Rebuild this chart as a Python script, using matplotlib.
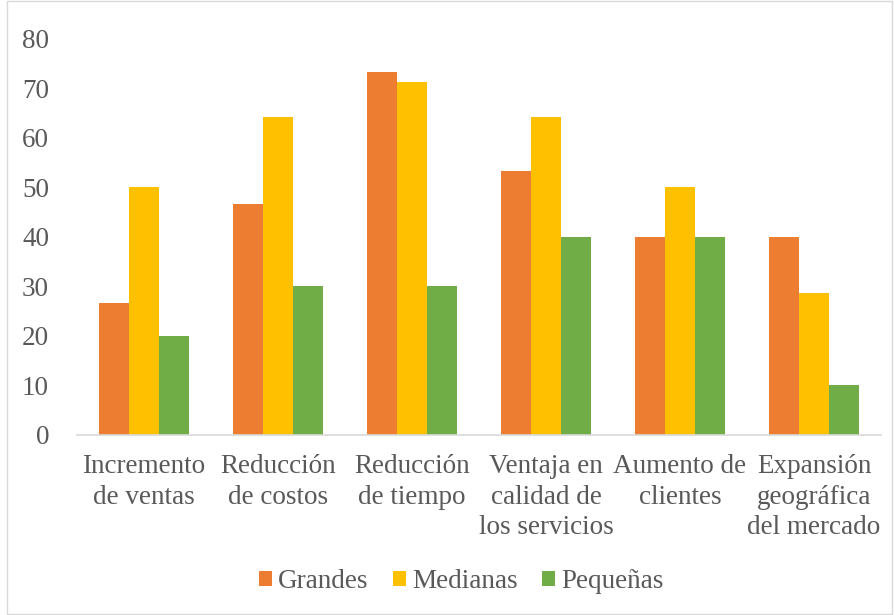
import numpy as np
import matplotlib.pyplot as plt
from matplotlib.patches import Rectangle

categorias = ["Incremento\nde ventas", "Reducción\nde costos", "Reducción\nde tiempo",
              "Ventaja en\ncalidad de\nlos servicios", "Aumento de\nclientes",
              "Expansión\ngeográfica\ndel mercado"]
grandes = [26.7, 46.7, 73.3, 53.3, 40.0, 40.0]
medianas = [50.0, 64.3, 71.4, 64.3, 50.0, 28.6]
pequenas = [20.0, 30.0, 30.0, 40.0, 40.0, 10.0]

plt.rcParams['font.family'] = ['Liberation Serif', 'DejaVu Serif']
gris = "#595959"
fs = 19.5

fig = plt.figure(figsize=(8.94, 6.15), dpi=100)
ax = fig.add_axes([0.086, 0.2927, 0.8995, 0.6439])

x = np.arange(len(categorias))
w = 0.222
ax.bar(x - w, grandes, w, color="#ED7D31", label="Grandes")
ax.bar(x, medianas, w, color="#FFC000", label="Medianas")
ax.bar(x + w, pequenas, w, color="#70AD47", label="Pequeñas")

ax.set_xlim(-0.5, len(categorias) - 0.5)
ax.set_ylim(0, 80)
ax.set_yticks(range(0, 81, 10))
ax.set_xticks(x)
ax.set_xticklabels(categorias, fontsize=fs, color=gris, linespacing=1.27)
ax.tick_params(axis='y', labelsize=fs, labelcolor=gris, length=0, pad=20)
ax.tick_params(axis='x', length=0, pad=14)
for s in ["top", "right", "left"]:
    ax.spines[s].set_visible(False)
ax.spines["bottom"].set_color("#D9D9D9")
ax.spines["bottom"].set_linewidth(1.2)

fig.legend(loc="lower center", bbox_to_anchor=(0.516, -0.005), ncol=3, frameon=False,
           fontsize=fs, labelcolor=gris, handlelength=0.48, handleheight=0.48,
           handletextpad=0.22, columnspacing=0.9)

fig.patches.append(Rectangle((0.008, 0.002), 0.99, 0.996, transform=fig.transFigure,
                             fill=False, edgecolor="#D9D9D9", linewidth=1))

plt.savefig("out.png")
